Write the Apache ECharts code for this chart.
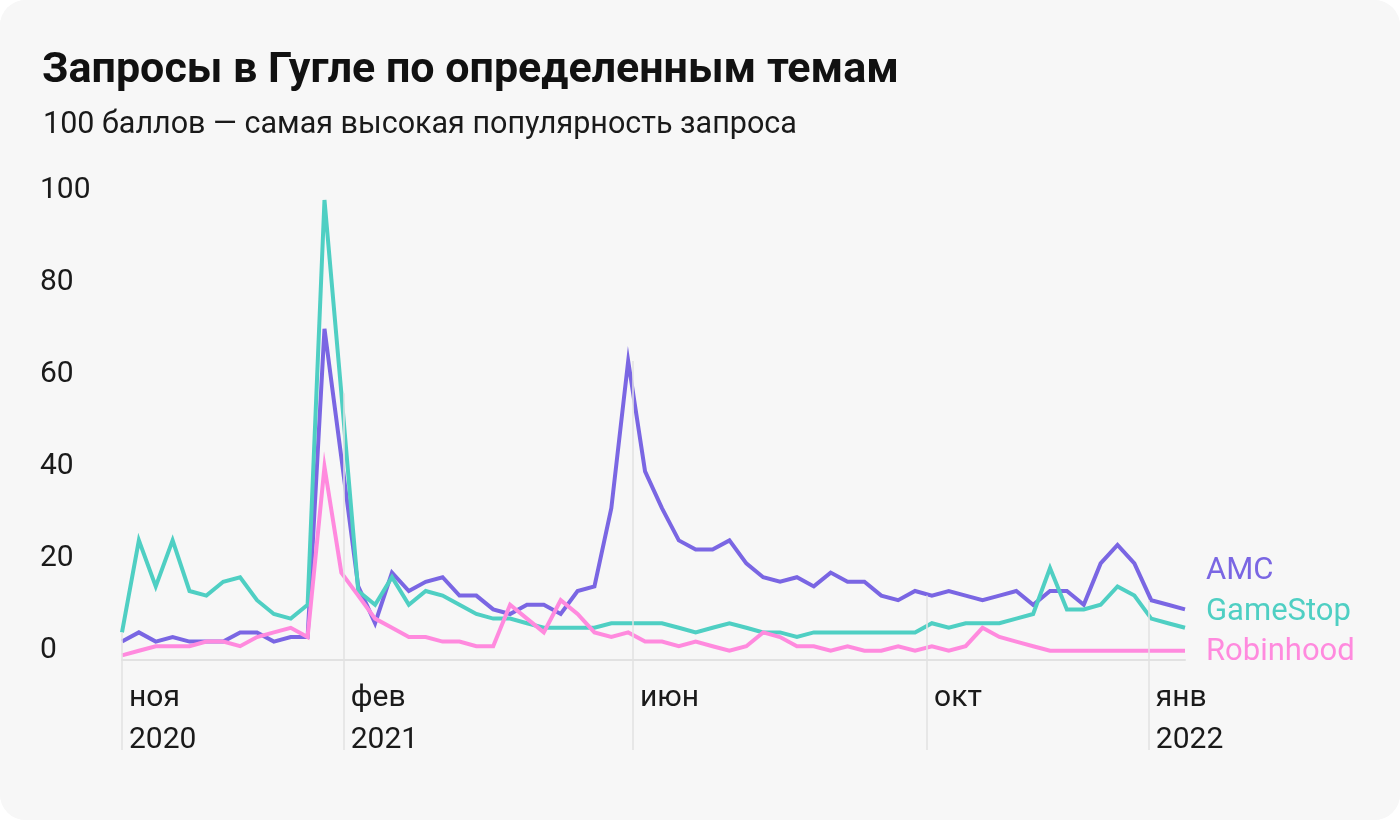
<!DOCTYPE html>
<html>
<head>
<meta charset="utf-8">
<script src="https://cdn.jsdelivr.net/npm/echarts@6.0.0/dist/echarts.min.js"></script>
<style>
  html, body { margin: 0; padding: 0; background: #ffffff; }
  #chart { width: 1400px; height: 820px; background: #f7f7f7; border-radius: 26px; overflow: hidden; }
</style>
</head>
<body>
<div id="chart"></div>
<script>
// недели (Google Trends, неделя с воскресенья)
var weeks = [
  '2020-11-01','2020-11-08','2020-11-15','2020-11-22','2020-11-29','2020-12-06','2020-12-13','2020-12-20','2020-12-27',
  '2021-01-03','2021-01-10','2021-01-17','2021-01-24','2021-01-31','2021-02-07','2021-02-14','2021-02-21','2021-02-28',
  '2021-03-07','2021-03-14','2021-03-21','2021-03-28','2021-04-04','2021-04-11','2021-04-18','2021-04-25',
  '2021-05-02','2021-05-09','2021-05-16','2021-05-23','2021-05-30','2021-06-06','2021-06-13','2021-06-20','2021-06-27',
  '2021-07-04','2021-07-11','2021-07-18','2021-07-25','2021-08-01','2021-08-08','2021-08-15','2021-08-22','2021-08-29',
  '2021-09-05','2021-09-12','2021-09-19','2021-09-26','2021-10-03','2021-10-10','2021-10-17','2021-10-24','2021-10-31',
  '2021-11-07','2021-11-14','2021-11-21','2021-11-28','2021-12-05','2021-12-12','2021-12-19','2021-12-26',
  '2022-01-02','2022-01-09','2022-01-16'
];

var amc = [4,6,4,5,4,4,4,6,6,4,5,5,72,44,16,8,19,15,17,18,14,14,11,10,12,12,10,15,16,33,65,41,33,26,24,24,26,21,
  18,17,18,16,19,17,17,14,13,15,14,15,14,13,14,15,12,15,15,12,21,25,21,13,12,11];
var gamestop = [6,26,16,26,15,14,17,18,13,10,9,12,100,58,15,12,18,12,15,14,12,10,9,9,8,7,7,7,7,8,8,8,8,7,6,7,8,7,
  6,6,5,6,6,6,6,6,6,6,8,7,8,8,8,9,10,20,11,11,12,16,14,9,8,7];
var robinhood = [1,2,3,3,3,4,4,3,5,6,7,5,42,19,14,9,7,5,5,4,4,3,3,12,9,6,13,10,6,5,6,4,4,3,4,3,2,3,
  6,5,3,3,2,3,2,2,3,2,3,2,3,7,5,4,3,2,2,2,2,2,2,2,2,2];

var tickDates = ['2020-11-01','2021-02-01','2021-06-01','2021-10-01','2022-01-01'];
var tickLabels = ['ноя\n2020','фев\n2021','июн','окт','янв\n2022'];
var yTicks = [0, 20, 40, 60, 80, 100];

function ts(s) {
  var p = s.split('-');
  return new Date(+p[0], +p[1] - 1, +p[2]).getTime();
}

var weekTs = weeks.map(ts);
var tickTs = tickDates.map(ts);

function pairs(vals) {
  return vals.map(function (v, i) { return [weekTs[i], v]; });
}

// вертикальные линии на месячных отметках — до самой высокой линии в ближайшую неделю
var dropLines = tickTs.map(function (t) {
  var best = 0;
  for (var i = 1; i < weekTs.length; i++) {
    if (Math.abs(weekTs[i] - t) < Math.abs(weekTs[best] - t)) best = i;
  }
  var h = Math.max(amc[best], gamestop[best], robinhood[best]);
  return [{ coord: [t, 0] }, { coord: [t, h] }];
});

var font = 'Roboto, "Noto Sans", sans-serif';
var colors = ['#7a66e3', '#4fcfc3', '#ff8ade'];
var labelDy = [-38, -16, 1];

var chart = echarts.init(document.getElementById('chart'), null, { renderer: 'canvas' });

function lineSeries(name, vals, idx) {
  return {
    name: name,
    type: 'line',
    data: pairs(vals),
    showSymbol: false,
    z: 3,
    lineStyle: { color: colors[idx], width: 4, join: 'miter' },
    itemStyle: { color: colors[idx] },
    emphasis: { disabled: true },
    endLabel: {
      show: true,
      formatter: '{a}',
      color: colors[idx],
      fontFamily: font,
      fontSize: 31,
      offset: [13, labelDy[idx]],
      align: 'left',
      verticalAlign: 'middle'
    }
  };
}

var option = {
  backgroundColor: '#f7f7f7',
  animation: false,
  title: [
    {
      text: 'Запросы в Гугле по определенным темам',
      left: 37, top: 39,
      textStyle: { fontFamily: font, fontWeight: 'bold', fontSize: 43, lineHeight: 54, color: '#111111' }
    },
    {
      text: '100 баллов — самая высокая популярность запроса',
      left: 38, top: 101,
      textStyle: { fontFamily: font, fontWeight: 'normal', fontSize: 30.5, lineHeight: 38, color: '#1a1a1a' }
    }
  ],
  grid: { left: 122, right: 215, top: 200, bottom: 160 },
  xAxis: {
    type: 'value',
    min: weekTs[0],
    max: weekTs[weekTs.length - 1],
    splitLine: { show: false },
    axisLine: { show: true, lineStyle: { color: '#e2e2e2', width: 2 } },
    axisTick: {
      show: true,
      customValues: tickTs,
      length: 90,
      lineStyle: { color: '#e2e2e2', width: 1.5 }
    },
    axisLabel: {
      customValues: tickTs,
      formatter: function (v) {
        var k = tickTs.indexOf(v);
        return k >= 0 ? tickLabels[k] : '';
      },
      align: 'left',
      verticalAlign: 'top',
      margin: 17,
      padding: [0, 0, 0, 7],
      fontFamily: font,
      fontSize: 30,
      lineHeight: 42,
      color: '#1a1a1a',
      hideOverlap: false
    }
  },
  yAxis: {
    type: 'value',
    min: yTicks[0],
    max: yTicks[yTicks.length - 1],
    interval: 20,
    splitLine: { show: false },
    axisLine: { show: false },
    axisTick: { show: false },
    axisLabel: {
      align: 'left',
      verticalAlign: 'bottom',
      lineHeight: 20,
      margin: 82,
      fontFamily: font,
      fontSize: 30,
      color: '#1a1a1a'
    }
  },
  series: [
    {
      name: 'drop',
      type: 'line',
      data: [],
      z: 1,
      silent: true,
      markLine: {
        silent: true,
        symbol: 'none',
        label: { show: false },
        lineStyle: { color: '#e2e2e2', width: 1.5, type: 'solid' },
        data: dropLines
      }
    },
    lineSeries('AMC', amc, 0),
    lineSeries('GameStop', gamestop, 1),
    lineSeries('Robinhood', robinhood, 2)
  ]
};

chart.setOption(option);
</script>
</body>
</html>
